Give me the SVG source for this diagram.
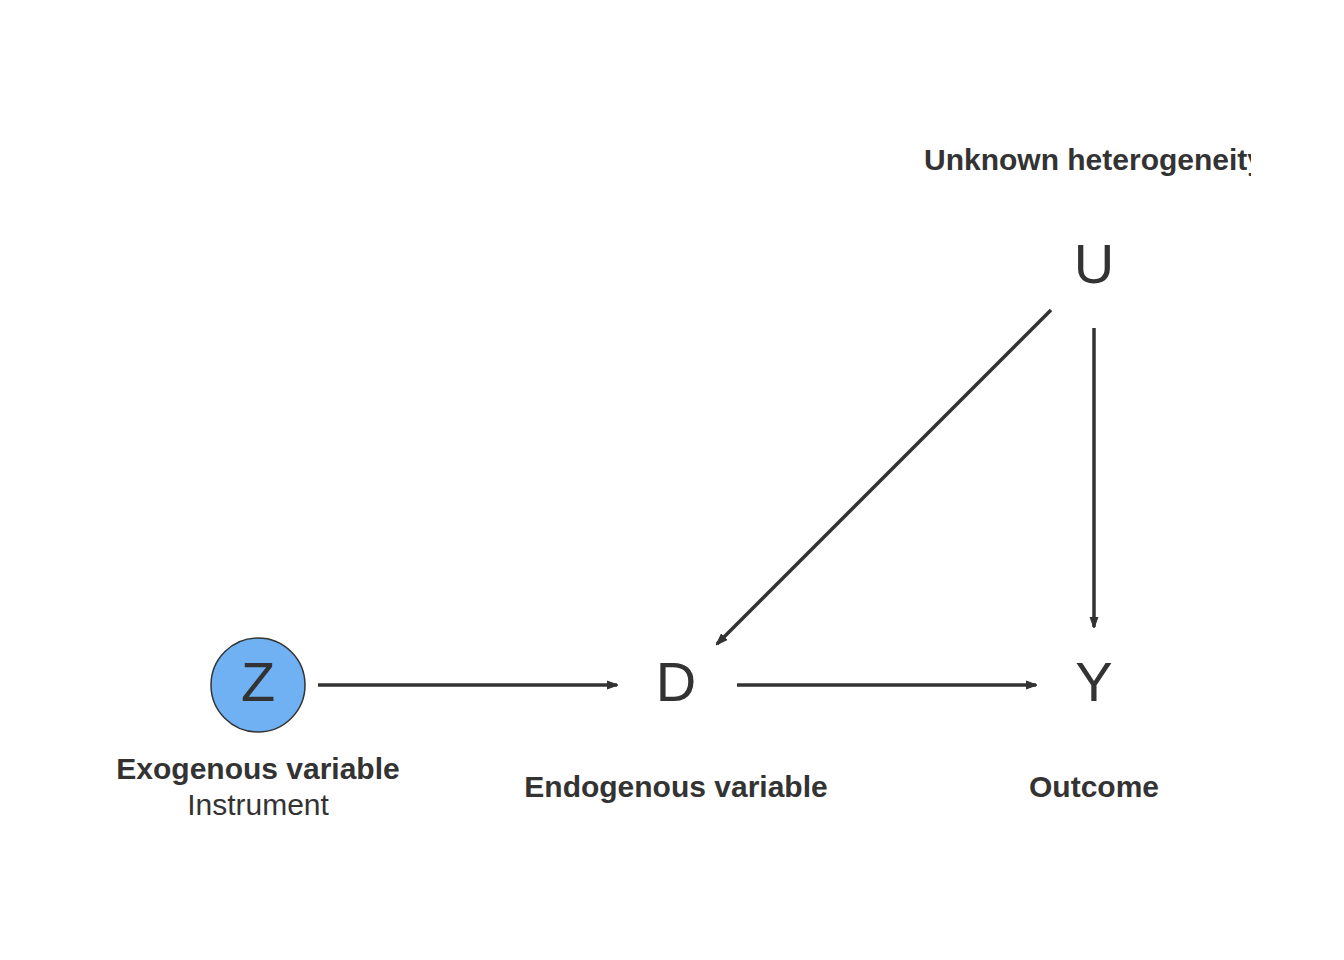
<svg xmlns="http://www.w3.org/2000/svg" width="1344" height="960" viewBox="0 0 1344 960">
<style>
.letter{font-family:"Liberation Sans",Arial,sans-serif;font-size:56px;fill:#333;text-anchor:middle}
.lbl{font-family:"Liberation Sans",Arial,sans-serif;font-size:30px;font-weight:bold;fill:#333;text-anchor:middle}
.sub{font-family:"Liberation Sans",Arial,sans-serif;font-size:30px;fill:#333;text-anchor:middle}
.edge{stroke:#333;stroke-width:3.5;fill:none;marker-end:url(#ah)}
</style>
<defs>
<marker id="ah" viewBox="0 0 12 10" refX="10" refY="5" markerWidth="12" markerHeight="10" markerUnits="userSpaceOnUse" orient="auto">
<path d="M0,1 L11,5 L0,9 z" fill="#333" stroke="#333" stroke-width="1" stroke-linejoin="round"/>
</marker>
<clipPath id="clipU"><rect x="0" y="0" width="1251" height="960"/></clipPath>
</defs>
<rect width="1344" height="960" fill="#fff"/>
<g id="connectors">
<line class="edge" x1="318" y1="685" x2="617" y2="685"/>
<line class="edge" x1="737" y1="685" x2="1036" y2="685"/>
<line class="edge" x1="1094" y1="328" x2="1094" y2="627"/>
<line class="edge" x1="1051" y1="310" x2="717" y2="644"/>
</g>
<g id="node-Z">
<circle cx="258" cy="685" r="47" fill="#6fb1f2" stroke="#333" stroke-width="1.5"/>
<text class="letter" x="258" y="701">Z</text>
<text class="lbl" x="258" y="779">Exogenous variable</text>
<text class="sub" x="258" y="815">Instrument</text>
</g>
<g id="node-D">
<text class="letter" x="676" y="701">D</text>
<text class="lbl" x="676" y="797">Endogenous variable</text>
</g>
<g id="node-Y">
<text class="letter" x="1094" y="701">Y</text>
<text class="lbl" x="1094" y="797">Outcome</text>
</g>
<g id="node-U">
<text class="letter" x="1094" y="283">U</text>
<text class="lbl" x="1094" y="170" clip-path="url(#clipU)">Unknown heterogeneity</text>
</g>
</svg>
